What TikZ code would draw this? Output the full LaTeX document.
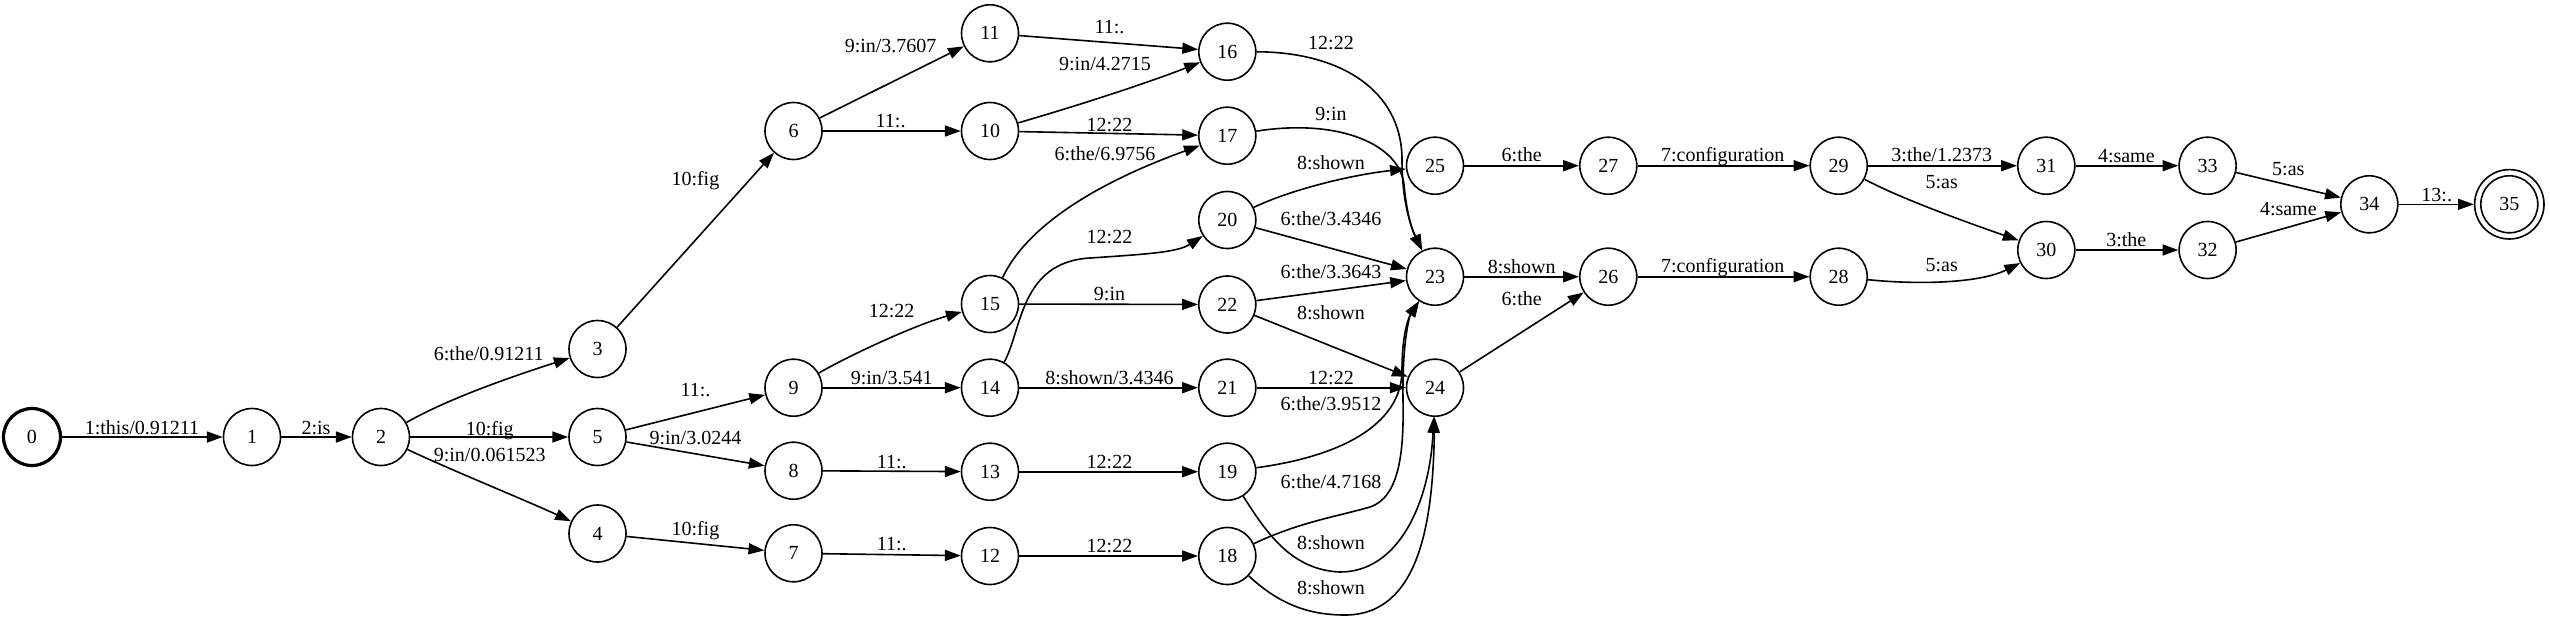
\documentclass[tikz,border=0pt]{standalone}
\usepackage{fontspec}
\setmainfont{Liberation Serif}
\usetikzlibrary{arrows.meta}
\tikzset{
  st/.style={circle, draw, line width=1.6pt, minimum size=57pt, inner sep=0pt, font=\fontsize{20}{24}\selectfont},
  lbl/.style={inner sep=0pt, text height=13.5pt, text depth=0pt, font=\fontsize{20}{24}\selectfont},
  arr/.style={draw, line width=1.6pt, -{Triangle[length=15.8pt,width=11pt]}},
}
\begin{document}
\begin{tikzpicture}[x=1pt,y=1pt]
\useasboundingbox (0,0) rectangle (2550,-622);
% states
\node[st, line width=3.2pt] (n0) at (32,-437) {0};
\node[st] (n1) at (252,-437) {1};
\node[st] (n2) at (381,-437) {2};
\node[st] (n3) at (597.5,-349) {3};
\node[st] (n5) at (597.5,-437) {5};
\node[st] (n4) at (597.5,-533.5) {4};
\node[st] (n6) at (793.5,-131) {6};
\node[st] (n9) at (793.5,-387.7) {9};
\node[st] (n8) at (793.5,-470.7) {8};
\node[st] (n7) at (793.5,-553.3) {7};
\node[st] (n11) at (990,-33.3) {11};
\node[st] (n10) at (990,-131) {10};
\node[st] (n15) at (990,-304) {15};
\node[st] (n14) at (990,-387.7) {14};
\node[st] (n13) at (990,-471.7) {13};
\node[st] (n12) at (990,-556) {12};
\node[st] (n16) at (1227.3,-51.7) {16};
\node[st] (n17) at (1227.3,-135.7) {17};
\node[st] (n20) at (1227.3,-220) {20};
\node[st] (n22) at (1227.3,-304.5) {22};
\node[st] (n21) at (1227.3,-387.7) {21};
\node[st] (n19) at (1227.3,-471.7) {19};
\node[st] (n18) at (1227.3,-556) {18};
\node[st] (n25) at (1435,-165.7) {25};
\node[st] (n23) at (1435,-276.7) {23};
\node[st] (n24) at (1435,-387.7) {24};
\node[st] (n27) at (1608.3,-165.7) {27};
\node[st] (n26) at (1608.3,-276.7) {26};
\node[st] (n29) at (1838.7,-165.7) {29};
\node[st] (n28) at (1838.7,-276.7) {28};
\node[st] (n31) at (2046.3,-165.7) {31};
\node[st] (n30) at (2046.3,-250) {30};
\node[st] (n33) at (2207.6,-165.7) {33};
\node[st] (n32) at (2207.6,-250) {32};
\node[st] (n34) at (2369.3,-204.3) {34};
\node[st, minimum size=69.4pt] (n35) at (2509.3,-204.3) {35};
\draw[line width=1.6pt] (n35.center) circle[radius=28.5pt];
% edges
\path[arr] (n0) -- (n1);
\path[arr] (n1) -- (n2);
\path[arr] (n2) .. controls (451,-397) and (520,-374) .. (n3);
\path[arr] (n2) -- (n5);
\path[arr] (n2) .. controls (451,-470) and (525,-500) .. (n4);
\path[arr] (n3) -- (n6);
\path[arr] (n5) -- (n9);
\path[arr] (n5) -- (n8);
\path[arr] (n4) -- (n7);
\path[arr] (n6) -- (n11);
\path[arr] (n6) -- (n10);
\path[arr] (n9) .. controls (850,-355) and (915,-325) .. (n15);
\path[arr] (n9) -- (n14);
\path[arr] (n8) -- (n13);
\path[arr] (n7) -- (n12);
\path[arr] (n11) -- (n16);
\path[arr] (n10) .. controls (1080,-105) and (1150,-82) .. (n16);
\path[arr] (n10) -- (n17);
\path[arr] (n15) .. controls (1030,-220) and (1110,-178) .. (n17);
\path[arr] (n15) -- (n22);
\path[arr] (n14) .. controls (1022,-330) and (1020,-262) .. (1090,-258) .. controls (1150,-254) and (1178,-252) .. (n20);
\path[arr] (n14) -- (n21);
\path[arr] (n13) -- (n19);
\path[arr] (n12) -- (n18);
\path[arr] (n16) .. controls (1340,-52) and (1402,-90) .. (1402,-160) .. controls (1402,-200) and (1410,-225) .. (n23);
\path[arr] (n17) .. controls (1340,-118) and (1400,-145) .. (1404,-185) .. controls (1407,-215) and (1412,-230) .. (n23);
\path[arr] (n20) .. controls (1290,-190) and (1350,-175) .. (n25);
\path[arr] (n20) -- (n23);
\path[arr] (n22) -- (n23);
\path[arr] (n22) -- (n24);
\path[arr] (n21) -- (n24);
\path[arr] (n19) .. controls (1350,-455) and (1402,-420) .. (1402,-370) .. controls (1402,-330) and (1410,-315) .. (n23);
\path[arr] (n18) .. controls (1300,-522) and (1335,-517) .. (1370,-507) .. controls (1400,-497) and (1404,-450) .. (1403,-400) .. controls (1402,-340) and (1410,-315) .. (n23);
\path[arr] (n19) .. controls (1265,-530) and (1290,-570) .. (1340,-572) .. controls (1400,-572) and (1430,-500) .. (n24);
\path[arr] (n18) .. controls (1280,-605) and (1310,-615) .. (1345,-615) .. controls (1420,-615) and (1433,-520) .. (n24);
\path[arr] (n25) -- (n27);
\path[arr] (n23) -- (n26);
\path[arr] (n24) -- (n26);
\path[arr] (n27) -- (n29);
\path[arr] (n26) -- (n28);
\path[arr] (n29) -- (n31);
\path[arr] (n29) .. controls (1900,-198) and (1960,-220) .. (n30);
\path[arr] (n28) .. controls (1920,-285) and (1980,-283) .. (n30);
\path[arr] (n31) -- (n33);
\path[arr] (n30) -- (n32);
\path[arr] (n33) -- (n34);
\path[arr] (n32) -- (n34);
\path[arr] (n34) -- (n35);
% labels
\node[lbl] (l1) at (142,-427.7) {1:this/0.91211};
\node[lbl] (l2) at (316,-427.5) {2:is};
\node[lbl] (l3) at (488.8,-354) {6:the/0.91211};
\node[lbl] (l4) at (489.7,-428.3) {10:fig};
\node[lbl] (l5) at (489.7,-455) {9:in/0.061523};
\node[lbl] (l6) at (695.4,-179) {10:fig};
\node[lbl] (l7) at (890.6,-45.7) {9:in/3.7607};
\node[lbl] (l8) at (890.6,-120.7) {11:.};
\node[lbl] (l9) at (695.4,-389.3) {11:.};
\node[lbl] (l10) at (695.4,-437.3) {9:in/3.0244};
\node[lbl] (l11) at (695.4,-528.3) {10:fig};
\node[lbl] (l12) at (891.7,-310.7) {12:22};
\node[lbl] (l13) at (891.7,-377.3) {9:in/3.541};
\node[lbl] (l14) at (891.7,-461.7) {11:.};
\node[lbl] (l15) at (891.7,-543.3) {11:.};
\node[lbl] (l16) at (1109.5,-26.7) {11:.};
\node[lbl] (l17) at (1105,-63.3) {9:in/4.2715};
\node[lbl] (l18) at (1109.5,-125) {12:22};
\node[lbl] (l19) at (1105,-153.3) {6:the/6.9756};
\node[lbl] (l20) at (1109.5,-236.7) {12:22};
\node[lbl] (l21) at (1109.5,-293.3) {9:in};
\node[lbl] (l22) at (1109.5,-377.3) {8:shown/3.4346};
\node[lbl] (l23) at (1109.5,-461.7) {12:22};
\node[lbl] (l24) at (1109.5,-546) {12:22};
\node[lbl] (l25) at (1331,-42.3) {12:22};
\node[lbl] (l26) at (1331,-113.3) {9:in};
\node[lbl] (l27) at (1331,-162.3) {8:shown};
\node[lbl] (l28) at (1331,-218.3) {6:the/3.4346};
\node[lbl] (l29) at (1331,-271.7) {6:the/3.3643};
\node[lbl] (l30) at (1331,-312.5) {8:shown};
\node[lbl] (l31) at (1331,-377.3) {12:22};
\node[lbl] (l32) at (1331,-404) {6:the/3.9512};
\node[lbl] (l33) at (1331,-481.7) {6:the/4.7168};
\node[lbl] (l34) at (1331,-542.3) {8:shown};
\node[lbl] (l35) at (1331,-587.3) {8:shown};
\node[lbl] (l36) at (1521.7,-155) {6:the};
\node[lbl] (l37) at (1521.7,-266.7) {8:shown};
\node[lbl] (l38) at (1521.7,-298.3) {6:the};
\node[lbl] (l39) at (1722.7,-155) {7:configuration};
\node[lbl] (l40) at (1722.7,-266) {7:configuration};
\node[lbl] (l41) at (1941.7,-155) {3:the/1.2373};
\node[lbl] (l42) at (1941.7,-181.7) {5:as};
\node[lbl] (l43) at (1941.7,-265) {5:as};
\node[lbl] (l44) at (2126.3,-156) {4:same};
\node[lbl] (l45) at (2126.3,-239.3) {3:the};
\node[lbl] (l46) at (2288.3,-168.3) {5:as};
\node[lbl] (l47) at (2288.3,-208.3) {4:same};
\node[lbl] (l48) at (2436.7,-195) {13:.};
\end{tikzpicture}
\end{document}
